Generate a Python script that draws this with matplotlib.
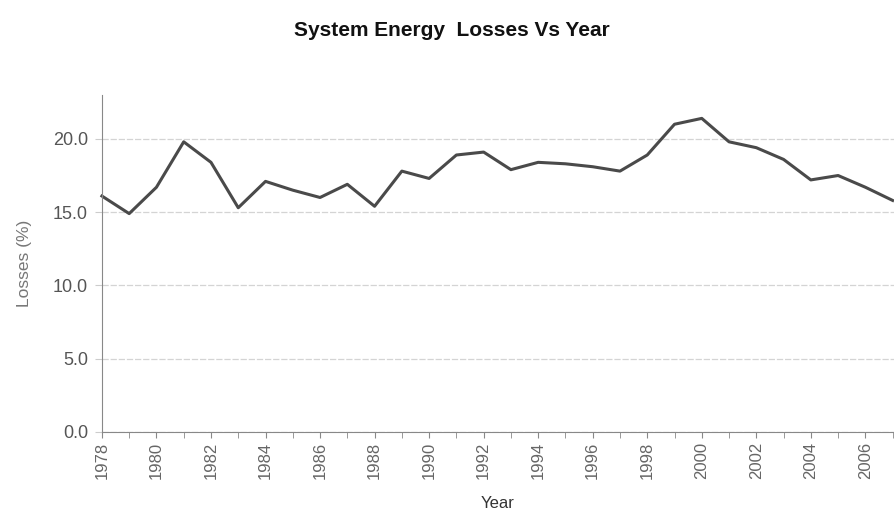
import matplotlib.pyplot as plt
import matplotlib.ticker as ticker

years = list(range(1978, 2008))
losses = [16.1, 14.9, 16.7, 19.8, 18.4, 15.3, 17.1, 16.5, 16.0, 16.9,
          15.4, 17.8, 17.3, 18.9, 19.1, 17.9, 18.4, 18.3, 18.1, 17.8,
          18.9, 21.0, 21.4, 19.8, 19.4, 18.6, 17.2, 17.5, 16.7, 15.8]
y_ticks = [0, 5, 10, 15, 20]

plt.rcParams['font.family'] = ['Liberation Sans', 'DejaVu Sans']

fig = plt.figure(figsize=(8.94, 5.16), dpi=100)
ax = fig.add_axes([0.114, 0.163, 0.886, 0.653])

ax.plot(years, losses, color='#4a4a4a', linewidth=2.2, clip_on=False)

ax.set_xlim(1978, 2007.05)
ax.set_ylim(0, 23)
ax.set_yticks(y_ticks)
ax.yaxis.set_major_formatter(ticker.FormatStrFormatter('%.1f'))
ax.set_xticks(range(1978, 2007, 2))
ax.xaxis.set_minor_locator(ticker.MultipleLocator(1))
ax.tick_params(axis='x', which='both', length=4, color='#888888',
               labelrotation=90, labelsize=12, labelcolor='#666666', pad=3)
ax.tick_params(axis='y', length=5, color='#cccccc', labelsize=13,
               labelcolor='#555555', pad=5)

ax.grid(axis='y', color='#d4d4d4', linewidth=0.9, linestyle=(0, (5, 1.5)))
ax.set_axisbelow(True)
for s in ['top', 'right']:
    ax.spines[s].set_visible(False)
ax.spines['left'].set_color('#888888')
ax.spines['bottom'].set_color('#888888')

ax.set_ylabel('Losses (%)', fontsize=12.5, color='#777777', labelpad=15)
ax.set_xlabel('Year', fontsize=12, color='#333333', labelpad=12)
fig.text(0.505, 0.94, 'System Energy  Losses Vs Year', ha='center', va='center',
         fontsize=15, fontweight='bold', color='#111111')

fig.savefig('out.png', dpi=100)
